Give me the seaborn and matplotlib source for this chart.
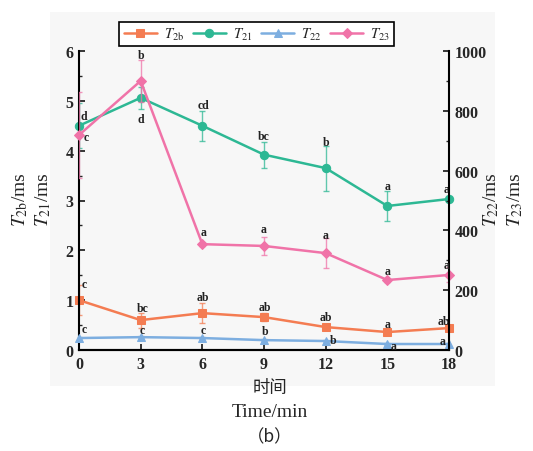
import matplotlib
matplotlib.use("Agg")
import matplotlib.pyplot as plt
import seaborn as sns
import pandas as pd
import numpy as np
from matplotlib.patches import Rectangle
from matplotlib.ticker import MultipleLocator

sns.set_theme(style="ticks")
plt.rcParams['font.family'] = ['Liberation Serif', 'Noto Sans CJK SC', 'DejaVu Sans']
plt.rcParams['mathtext.fontset'] = 'stix'

time = [0, 3, 6, 9, 12, 15, 18]
t2b = [1.00, 0.60, 0.74, 0.66, 0.46, 0.36, 0.44]
t2b_err = [0.30, 0.15, 0.20, 0.08, 0.03, 0.03, 0.04]
t21 = [4.50, 5.06, 4.50, 3.92, 3.65, 2.89, 3.03]
t21_err = [0.45, 0.22, 0.30, 0.26, 0.45, 0.30, 0.06]
t22 = [40, 43, 40, 33, 30, 20, 20]
t22_err = [3, 3, 3, 3, 3, 3, 3]
t23 = [719, 900, 354, 348, 324, 234, 251]
t23_err = [145, 70, 5, 30, 50, 6, 25]

t2b_letters = ["c", "bc", "ab", "ab", "ab", "a", "ab"]
t21_letters = ["d", "d", "cd", "bc", "b", "a", "a"]
t22_letters = ["c", "c", "c", "b", "b", "a", "a"]
t23_letters = ["c", "b", "a", "a", "a", "a", "a"]

c_2b = "#F47C52"
c_21 = "#2DB894"
c_22 = "#7DAEE0"
c_23 = "#F073A8"

fig = plt.figure(figsize=(5.33, 4.52), dpi=100)
fig.patch.set_facecolor("white")
bg = Rectangle((50/533, 1-387/452), 445/533, 374/452,
               transform=fig.transFigure, facecolor="#f7f7f7",
               edgecolor="none", zorder=-10)
fig.add_artist(bg)
ax = fig.add_axes([79/533, 1-351/452, 370/533, 299/452])
ax.set_facecolor("none")
ax2 = ax.twinx()
ax2.set_facecolor("none")

df_l = pd.DataFrame({"time": time, "T2b": t2b, "T21": t21})
df_r = pd.DataFrame({"time": time, "T22": t22, "T23": t23})

lw = 1.8
sns.lineplot(data=df_l, x="time", y="T2b", ax=ax, color=c_2b, marker="s",
             markersize=6, markeredgecolor=c_2b, linewidth=lw, label=r"$T_{2\mathrm{b}}$", legend=False)
sns.lineplot(data=df_l, x="time", y="T21", ax=ax, color=c_21, marker="o",
             markersize=6, markeredgecolor=c_21, linewidth=lw, label=r"$T_{21}$", legend=False)
sns.lineplot(data=df_r, x="time", y="T22", ax=ax2, color=c_22, marker="^",
             markersize=6, markeredgecolor=c_22, linewidth=lw, label=r"$T_{22}$", legend=False)
sns.lineplot(data=df_r, x="time", y="T23", ax=ax2, color=c_23, marker="D",
             markersize=5.5, markeredgecolor=c_23, linewidth=lw, label=r"$T_{23}$", legend=False)
for a in (ax, ax2):
    for ln in a.get_lines():
        ln.set_clip_on(False)

ekw = dict(fmt="none", elinewidth=1.0, capsize=2.5, capthick=1.0, alpha=0.75)
ax.errorbar(time, t2b, yerr=t2b_err, ecolor=c_2b, **ekw)
ax.errorbar(time, t21, yerr=t21_err, ecolor=c_21, **ekw)
ax2.errorbar(time, t22, yerr=t22_err, ecolor=c_22, **ekw)
ax2.errorbar(time, t23, yerr=t23_err, ecolor=c_23, **ekw)

lfs = 8.5
def annot(a, xs, ys, letters, offs):
    for x, y, s, (dx, dy) in zip(xs, ys, letters, offs):
        a.annotate(s, xy=(x, y), xytext=(dx, dy), textcoords="offset pixels",
                   ha="center", va="center", fontsize=lfs, fontweight="bold",
                   color="#222222")

annot(ax, time, t2b, t2b_letters, [(5, 16), (2, 12), (1, 16), (1, 10), (0, 10), (0, 8), (-5, 7)])
annot(ax, time, t21, t21_letters, [(5, 10), (0, -21), (1, 21), (0, 19), (0, 26), (0, 20), (-2, 10)])
annot(ax2, time, t22, t22_letters, [(5, 9), (2, 7), (1, 8), (1, 9), (7, 1), (6, -2), (-6, 3)])
annot(ax2, time, t23, t23_letters, [(7, -2), (0, 26), (1, 12), (0, 17), (0, 18), (0, 9), (-2, 10)])

ax.set_xlim(0, 18)
ax.set_ylim(0, 6)
ax2.set_ylim(0, 1000)
ax.set_xticks(time)
ax.yaxis.set_major_locator(MultipleLocator(1))
ax.yaxis.set_minor_locator(MultipleLocator(0.5))
ax2.yaxis.set_major_locator(MultipleLocator(200))
ax2.yaxis.set_minor_locator(MultipleLocator(100))

for a in (ax, ax2):
    a.set_xlabel("")
    a.set_ylabel("")
    for sp in a.spines.values():
        sp.set_linewidth(1.5)
        sp.set_color("black")
    a.spines["top"].set_visible(False)
    a.tick_params(which="major", direction="in", length=4, width=1.3, labelsize=11.5, pad=4)
    a.tick_params(which="minor", direction="in", length=2.5, width=1.0)
    for lab in a.get_xticklabels() + a.get_yticklabels():
        lab.set_fontweight("bold")
ax2.spines["left"].set_visible(False)
ax.spines["right"].set_visible(False)

h1, l1 = ax.get_legend_handles_labels()
h2, l2 = ax2.get_legend_handles_labels()
leg = ax2.legend(h1 + h2, l1 + l2, ncol=4, loc="center", bbox_to_anchor=(0.48, 1.057),
                 frameon=True, fancybox=False, edgecolor="black", fontsize=10.5,
                 handlelength=2.3, columnspacing=0.6, handletextpad=0.45,
                 borderpad=0.3, borderaxespad=0, framealpha=1)
leg.get_frame().set_linewidth(1.2)
leg.set_zorder(10)

fs = 14
fig.text(20/533, 1-200/452, r"$T_{2\mathrm{b}}$/ms", rotation=90, ha="center", va="center", fontsize=fs)
fig.text(43/533, 1-200/452, r"$T_{21}$/ms", rotation=90, ha="center", va="center", fontsize=fs)
fig.text(491/533, 1-200/452, r"$T_{22}$/ms", rotation=90, ha="center", va="center", fontsize=fs)
fig.text(515/533, 1-200/452, r"$T_{23}$/ms", rotation=90, ha="center", va="center", fontsize=fs)

fig.text(270/533, 1-388/452, "时间", ha="center", va="center", fontsize=12.5,
         family=['Noto Sans CJK SC', 'DejaVu Sans'])
fig.text(270/533, 1-413/452, "Time/min", ha="center", va="center", fontsize=14)
fig.text(270/533, 1-437/452, "（b）", ha="center", va="center", fontsize=12.5,
         family=['Noto Sans CJK SC', 'DejaVu Sans'])

fig.savefig("out.png", dpi=100)
